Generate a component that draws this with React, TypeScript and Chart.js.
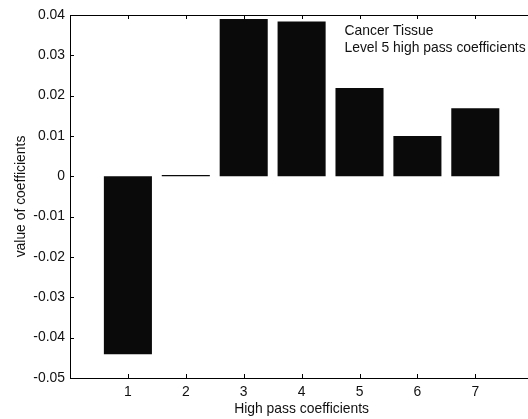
import React, { useEffect, useRef } from "react";
import { Chart, registerables } from "chart.js";

Chart.register(...registerables);

const positions = [1, 2, 3, 4, 5, 6, 7];
const values = [-0.0441, 0.0003, 0.0390, 0.0384, 0.0219, 0.0100, 0.0169];
const yTicks = [-0.05, -0.04, -0.03, -0.02, -0.01, 0, 0.01, 0.02, 0.03, 0.04];
const xMin = 0;
const xMaxVisible = 7.91;
const annotationLines = ["Cancer Tissue", "Level 5 high pass coefficients"];
const xTitle = "High pass coefficients";
const yTitle = "value of coefficients";

const FONT_FAMILY = '"Liberation Sans", Arial, Helvetica, sans-serif';
const FONT_SIZE = 13.9;
const TEXT = "#111111";

const matlabPlugin = {
  id: "matlabAxes",
  afterDatasetsDraw(chart: any) {
    const { ctx, chartArea, scales } = chart;
    const xs = scales.x;
    const ys = scales.y;
    const { left, top, right, bottom } = chartArea;
    ctx.save();
    ctx.strokeStyle = "#000";
    ctx.lineWidth = 1;
    ctx.beginPath();
    ctx.moveTo(right + 1, top + 0.5);
    ctx.lineTo(left + 0.5, top + 0.5);
    ctx.lineTo(left + 0.5, bottom + 0.5);
    ctx.lineTo(right + 1, bottom + 0.5);
    ctx.stroke();
    const tl = 4;
    ctx.beginPath();
    positions.forEach((p) => {
      const px = Math.round(xs.getPixelForValue(p)) + 0.5;
      ctx.moveTo(px, bottom);
      ctx.lineTo(px, bottom - tl);
      ctx.moveTo(px, top);
      ctx.lineTo(px, top + tl);
    });
    yTicks.forEach((v) => {
      const py = Math.round(ys.getPixelForValue(v)) + 0.5;
      ctx.moveTo(left, py);
      ctx.lineTo(left + tl, py);
    });
    ctx.stroke();

    ctx.fillStyle = TEXT;
    ctx.font = `${FONT_SIZE}px ${FONT_FAMILY}`;
    ctx.textBaseline = "middle";
    ctx.textAlign = "left";
    const ax = xs.getPixelForValue(4.74);
    ctx.fillText(annotationLines[0], ax, top + 16.5);
    ctx.fillText(annotationLines[1], ax, top + 33);

    ctx.textAlign = "center";
    ctx.fillText(xTitle, xs.getPixelForValue(4), 409);
    ctx.translate(21.5, (top + bottom) / 2);
    ctx.rotate(-Math.PI / 2);
    ctx.fillText(yTitle, 0, 0);
    ctx.restore();
  },
};

export default function App() {
  const canvasRef = useRef<HTMLCanvasElement | null>(null);

  useEffect(() => {
    const canvas = canvasRef.current;
    if (!canvas) return;
    const chart = new Chart(canvas, {
      type: "bar",
      data: {
        datasets: [
          {
            data: positions.map((p, i) => ({ x: p, y: values[i] })),
            backgroundColor: "#0a0a0a",
            borderWidth: 0,
            barPercentage: 0.83,
            categoryPercentage: 1,
          },
        ],
      },
      plugins: [matlabPlugin],
      options: {
        responsive: false,
        animation: false,
        devicePixelRatio: 1,
        layout: { padding: { top: 15, right: 0, left: 0, bottom: 0 } },
        plugins: {
          legend: { display: false },
          tooltip: { enabled: false },
          title: { display: false },
        },
        scales: {
          x: {
            type: "linear",
            min: xMin,
            max: xMaxVisible,
            offset: false,
            grid: { display: false, drawTicks: false, tickLength: 0 },
            border: { display: false },
            afterFit: (s: any) => {
              s.height = 41;
              s.paddingRight = 0;
              s.paddingLeft = 0;
            },
            afterBuildTicks: (s: any) => {
              s.ticks = positions.map((v) => ({ value: v }));
            },
            ticks: {
              autoSkip: false,
              maxRotation: 0,
              padding: 6,
              color: TEXT,
              font: { family: FONT_FAMILY, size: FONT_SIZE },
              callback: (v: any) => String(v),
            },
          },
          y: {
            type: "linear",
            min: -0.05,
            max: 0.04,
            grid: { display: false, drawTicks: false, tickLength: 0 },
            border: { display: false },
            afterFit: (s: any) => {
              s.width = 70;
            },
            afterBuildTicks: (s: any) => {
              s.ticks = yTicks.map((v) => ({ value: v }));
            },
            ticks: {
              padding: 5,
              color: TEXT,
              font: { family: FONT_FAMILY, size: FONT_SIZE },
              callback: (v: any) => {
                const r = Math.round(Number(v) * 100) / 100;
                return r === 0 ? "0" : r.toFixed(2);
              },
            },
          },
        },
      },
    });
    return () => chart.destroy();
  }, []);

  return (
    <div
      style={{
        position: "fixed",
        left: 0,
        top: 0,
        width: 528,
        height: 419,
        overflow: "hidden",
        background: "#fff",
      }}
    >
      <canvas
        ref={canvasRef}
        width={528}
        height={419}
        style={{ display: "block", width: 528, height: 419 }}
      />
    </div>
  );
}
